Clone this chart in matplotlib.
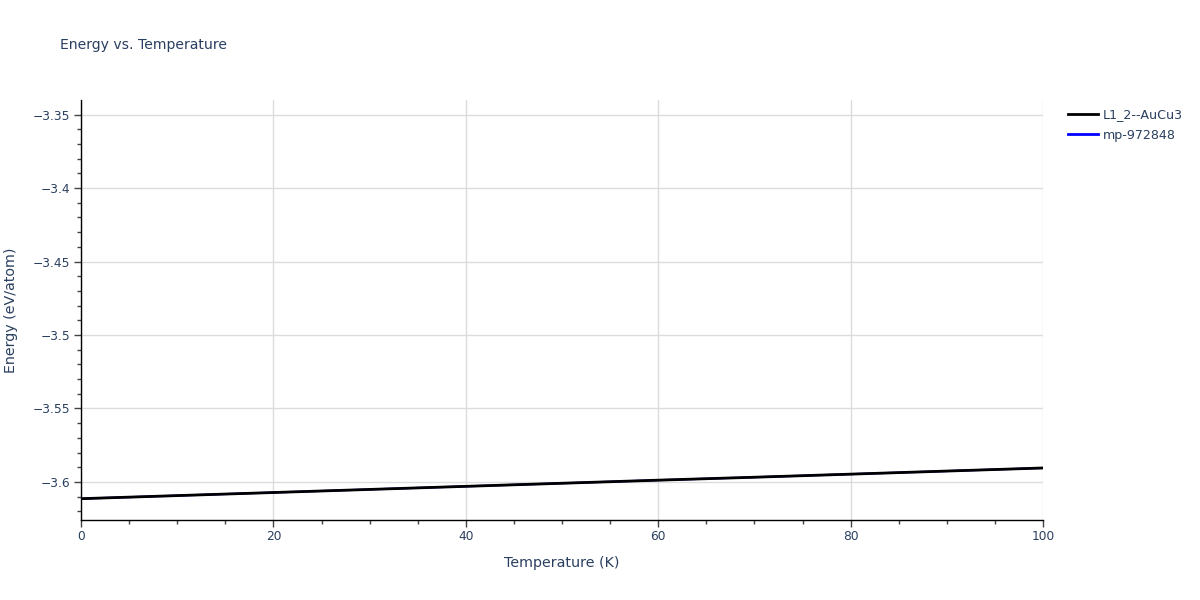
import matplotlib
matplotlib.use("Agg")
import matplotlib.pyplot as plt
from matplotlib.ticker import MultipleLocator, FuncFormatter
from matplotlib.lines import Line2D

plt.rcParams['font.family'] = ['DejaVu Sans']

temperature = [0, 10, 20, 30, 40, 50, 60, 70, 80, 90, 100]
energy_l12 = [-3.6114, -3.6093, -3.6072, -3.6051, -3.6030, -3.6009,
              -3.5988, -3.5968, -3.5947, -3.5926, -3.5905]
energy_mp = [-3.6114, -3.6093, -3.6072, -3.6051, -3.6030, -3.6009,
             -3.5988, -3.5968, -3.5947, -3.5926, -3.5905]
series_names = ["L1_2--AuCu3", "mp-972848"]
series_colors = ["black", "blue"]

txt = "#2a3f5f"
fig = plt.figure(figsize=(12, 6), dpi=100)
ax = fig.add_axes([81/1200, 80/600, (1043-81)/1200, 420/600])

ax.plot(temperature, energy_mp, color=series_colors[1], lw=1.5, zorder=3)
ax.plot(temperature, energy_l12, color=series_colors[0], lw=2, zorder=4)

ax.set_xlim(0, 100)
ax.set_ylim(-3.6259, -3.3401)
ax.xaxis.set_major_locator(MultipleLocator(20))
ax.xaxis.set_minor_locator(MultipleLocator(5))
ax.yaxis.set_major_locator(MultipleLocator(0.05))
ax.yaxis.set_minor_locator(MultipleLocator(0.01))

def yfmt(v, pos):
    s = f"{abs(v):.2f}".rstrip('0').rstrip('.')
    return ("\u2212" + s) if v < 0 else s
ax.yaxis.set_major_formatter(FuncFormatter(yfmt))
ax.xaxis.set_major_formatter(FuncFormatter(lambda v, p: f"{v:g}"))

ax.grid(True, which='major', color='#dcdcdc', lw=1)
ax.set_axisbelow(True)
for s in ['top', 'right']:
    ax.spines[s].set_visible(False)
for s in ['left', 'bottom']:
    ax.spines[s].set_color('black')
    ax.spines[s].set_linewidth(1)

ax.tick_params(which='major', direction='out', length=5, width=1, color='#444444',
               labelsize=8.8, labelcolor=txt, pad=2.5)
ax.tick_params(which='minor', direction='out', length=3, width=1, color='#444444')

ax.set_xlabel("Temperature (K)", fontsize=10.3, color=txt)
ax.set_ylabel("Energy (eV/atom)", fontsize=10.3, color=txt)
ax.yaxis.set_label_coords(-63/962, 0.5)
ax.xaxis.set_label_coords(0.5, -36/420)

fig.text(60/1200, 1 - 45/600, "Energy vs. Temperature", fontsize=10.1, color=txt,
         va='center', ha='left')

handles = [Line2D([], [], color=c, lw=2) for c in series_colors]
fig.legend(handles, series_names, loc='upper left', bbox_to_anchor=(1068/1200, 1 - 108/600),
           frameon=False, fontsize=9.1, labelcolor=txt, handlelength=2.35,
           handletextpad=0.42, borderaxespad=0, borderpad=0, labelspacing=0.6)

fig.savefig("out.png", dpi=100)
